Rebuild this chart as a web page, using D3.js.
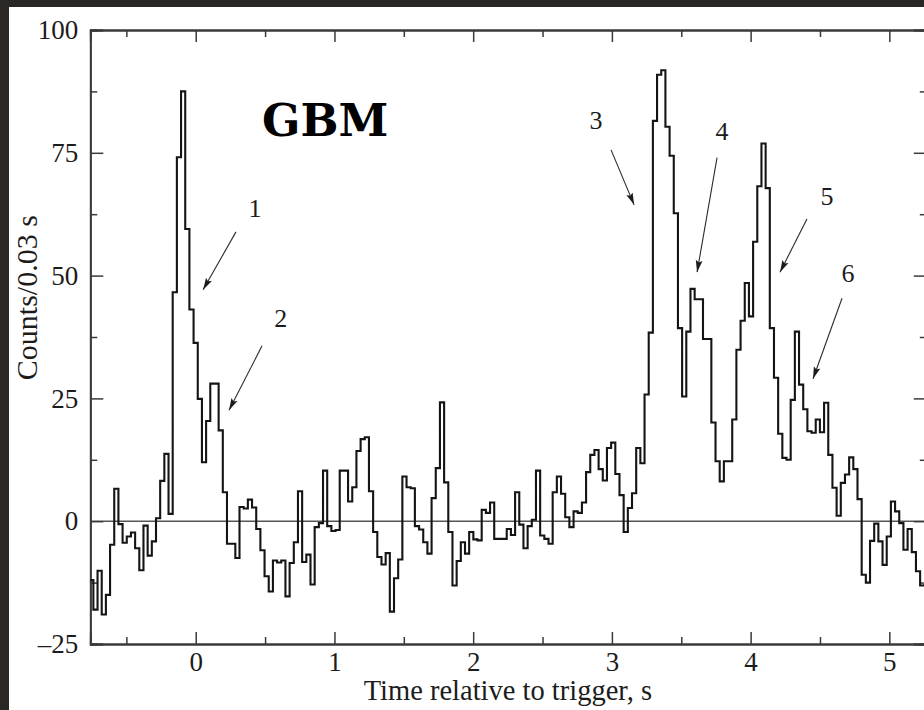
<!DOCTYPE html>
<html><head><meta charset="utf-8">
<script src="https://cdn.jsdelivr.net/npm/d3@7"></script>
<style>html,body{margin:0;padding:0;background:#2b2724;} svg{display:block;}</style>
</head><body>
<svg id="chart" width="924" height="710"></svg>
<script>
// ---- data ----
const binStart = -0.768;   // s, left edge of first bin
const binWidth = 0.0301;   // s
const counts = [
 -12,-18,-10.1,-19,-15,-4.8,6.6,-0.6,-4.4,-3.1,
 -2.3,-5.5,-10,-0.9,-7,-4.1,0.6,8.2,13.7,1.5,
 46.6,74.1,87.5,59.5,43.1,36.3,24.9,12,20.4,28,
 28,18.5,5.9,-4.6,-4.6,-7.5,2.9,2.6,4.4,2.8,
 -1.6,-5.9,-11.2,-14.3,-8,-8.4,-8,-15.3,-8.5,-4.3,
 6.1,-8.3,-6.8,-12.9,-1.2,-0.4,10.3,-1,-2,-1.8,
 10.3,10.3,4,6.9,14.3,16.7,17.1,6.1,-2.2,-7.3,
 -8.8,-6.5,-18.4,-11.6,-7.8,9.1,6.9,6.7,-1,-1.7,
 -4.3,-6.6,4.7,10.8,24.2,7.9,-2.2,-13.1,-8.1,-4.3,
 -6.6,-2.2,-3.7,-3.9,2.3,1.7,3.8,-3.6,-3.6,-3.6,
 -1.6,-2.8,5.9,-0.7,-5.5,-1,0.3,10.3,-2.9,-3.6,
 -4.6,5.9,9.1,5.6,0.8,-1.2,2,1.7,3.8,10,
 13.5,14.5,10.6,8.3,14.9,16,9.6,5.3,-2.2,2.7,
 5.7,14.9,11.8,25.8,38.4,81.5,90.9,91.8,80.3,74.4,
 62.7,39.3,25.4,38.6,47.3,45.2,45.2,37.1,37.1,20.1,
 12.2,8.1,12.2,12.2,20.7,34.9,40.8,48.5,41.7,56.9,
 68.2,76.9,67.8,39.3,29.2,17.8,12.9,12.5,24.7,38.6,
 27.8,22.8,18.3,18,20.7,18.1,24.1,13.5,6.8,1.1,
 7.8,9.5,13,10.6,4.5,-10.9,-12.5,-4,-0.5,-4.1,
 -8.9,-3.1,4,2,-0.4,-5.8,-1.6,-6.3,-10.2,-13.1,
 -13
];
const xDomain = [-0.76, 5.27];
const yDomain = [-25, 100];
const xMajorTicks = [0,1,2,3,4,5];
const xMinorTicks = [-0.5,0.5,1.5,2.5,3.5,4.5];
const yMajorTicks = [-25,0,25,50,75,100];
const yMinorTicks = [-12.5,12.5,37.5,62.5,87.5];
const xTitle = "Time relative to trigger, s";
const yTitle = "Counts/0.03 s";
const xTitleCenter = 2.25;   // s, horizontal centre of the x title
const yTitleCenter = 45.5;   // counts, vertical centre of the y title
const panelTitle = "GBM";
const panelTitleAt = [0.478, 78.4];
const labelIds = ["1","2","3","4","5","6"];
const labelTimes = [0.428,0.613,2.886,3.794,4.551,4.702];
const labelCounts = [63.7,41.3,81.7,79.4,66.2,50.5];
const arrowFromTimes = [0.29,0.478,2.994,3.758,4.406,4.659];
const arrowFromCounts = [58.9,35.7,75.6,74.0,61.5,45.4];
const arrowToTimes = [0.053,0.240,3.160,3.614,4.212,4.450];
const arrowToCounts = [47.1,22.6,64.4,50.7,50.7,29.0];

// ---- layout ----
const W = 924, H = 710;
const plot = {left: 90.3, right: 926.8, top: 30, bottom: 644};
const serif = "'Liberation Serif','Times New Roman',serif";

const svg = d3.select("#chart");
svg.append("rect").attr("width", W).attr("height", H).attr("fill", "#2b2724");
svg.append("rect").attr("x", 9).attr("y", 7).attr("width", W - 9).attr("height", H - 7).attr("fill", "#ffffff");

const x = d3.scaleLinear().domain(xDomain).range([plot.left, plot.right]);
const y = d3.scaleLinear().domain(yDomain).range([plot.bottom, plot.top]);

svg.append("defs").append("clipPath").attr("id", "clip")
  .append("rect").attr("x", plot.left).attr("y", plot.top)
  .attr("width", plot.right - plot.left).attr("height", plot.bottom - plot.top);

const axisColor = "#3a3a3a";
const fmt = d => d < 0 ? "\u2013" + Math.abs(d) : String(d);

function styleAxis(g, showText) {
  g.select(".domain").attr("stroke", axisColor).attr("stroke-width", 1.8);
  g.selectAll(".tick line").attr("stroke", axisColor).attr("stroke-width", 1.5);
  g.selectAll(".tick text").attr("fill", "#1c1c1c")
    .style("font-family", serif).style("font-size", "27px");
  if (!showText) g.selectAll(".tick text").remove();
}

// zero line
svg.append("line")
  .attr("x1", plot.left).attr("x2", plot.right)
  .attr("y1", y(0)).attr("y2", y(0))
  .attr("stroke", "#555").attr("stroke-width", 1.4);

// left axis
svg.append("g").attr("transform", `translate(${plot.left},0)`)
  .call(d3.axisLeft(y).tickValues(yMajorTicks).tickSize(-13).tickPadding(12).tickFormat(fmt))
  .call(g => styleAxis(g, true));
svg.append("g").attr("transform", `translate(${plot.left},0)`)
  .call(d3.axisLeft(y).tickValues(yMinorTicks).tickSize(-7).tickFormat(""))
  .call(g => styleAxis(g, false));
// right axis
svg.append("g").attr("transform", `translate(${plot.right},0)`)
  .call(d3.axisRight(y).tickValues(yMajorTicks).tickSize(-13).tickFormat(""))
  .call(g => styleAxis(g, false));
svg.append("g").attr("transform", `translate(${plot.right},0)`)
  .call(d3.axisRight(y).tickValues(yMinorTicks).tickSize(-7).tickFormat(""))
  .call(g => styleAxis(g, false));
// bottom axis
svg.append("g").attr("transform", `translate(0,${plot.bottom})`)
  .call(d3.axisBottom(x).tickValues(xMajorTicks).tickSize(-12).tickPadding(8).tickFormat(fmt))
  .call(g => styleAxis(g, true));
svg.append("g").attr("transform", `translate(0,${plot.bottom})`)
  .call(d3.axisBottom(x).tickValues(xMinorTicks).tickSize(-7).tickFormat(""))
  .call(g => styleAxis(g, false));
// top axis
svg.append("g").attr("transform", `translate(0,${plot.top})`)
  .call(d3.axisTop(x).tickValues(xMajorTicks).tickSize(-12).tickFormat(""))
  .call(g => styleAxis(g, false));
svg.append("g").attr("transform", `translate(0,${plot.top})`)
  .call(d3.axisTop(x).tickValues(xMinorTicks).tickSize(-7).tickFormat(""))
  .call(g => styleAxis(g, false));

// histogram (step line)
const pts = counts.map((v, i) => [binStart + i * binWidth, v]);
pts.push([binStart + counts.length * binWidth, counts[counts.length - 1]]);
const line = d3.line().x(d => x(d[0])).y(d => y(d[1])).curve(d3.curveStepAfter);
svg.append("path")
  .attr("clip-path", "url(#clip)")
  .attr("d", line(pts))
  .attr("fill", "none").attr("stroke", "#141414").attr("stroke-width", 2.1)
  .attr("stroke-linejoin", "miter");

// arrows
svg.select("defs").append("marker")
  .attr("id", "ah").attr("markerUnits", "userSpaceOnUse")
  .attr("viewBox", "0 0 12 8").attr("refX", 12).attr("refY", 4)
  .attr("markerWidth", 12).attr("markerHeight", 8).attr("orient", "auto")
  .append("path").attr("d", "M0,0.6 L12,4 L0,7.4 L2.2,4 Z").attr("fill", "#1c1c1c");

labelIds.forEach((id, i) => {
  svg.append("line")
    .attr("x1", x(arrowFromTimes[i])).attr("y1", y(arrowFromCounts[i]))
    .attr("x2", x(arrowToTimes[i])).attr("y2", y(arrowToCounts[i]))
    .attr("stroke", "#2a2a2a").attr("stroke-width", 1.1)
    .attr("marker-end", "url(#ah)");
  svg.append("text")
    .attr("x", x(labelTimes[i])).attr("y", y(labelCounts[i]))
    .attr("dy", "0.35em").attr("text-anchor", "middle")
    .style("font-family", serif).style("font-size", "26px").attr("fill", "#1c1c1c")
    .text(id);
});

// panel title
svg.append("text")
  .attr("x", x(panelTitleAt[0])).attr("y", y(panelTitleAt[1]))
  .style("font-family", "'DejaVu Serif',serif").style("font-weight", "bold")
  .style("font-size", "45px").attr("fill", "#000")
  .text(panelTitle);

// axis titles
svg.append("text")
  .attr("x", x(xTitleCenter)).attr("y", 700)
  .attr("text-anchor", "middle")
  .style("font-family", serif).style("font-size", "28.5px").attr("fill", "#1c1c1c")
  .text(xTitle);
svg.append("text")
  .attr("transform", `translate(37,${y(yTitleCenter)}) rotate(-90)`)
  .attr("text-anchor", "middle")
  .style("font-family", serif).style("font-size", "30px").attr("fill", "#1c1c1c")
  .text(yTitle);
</script>
</body></html>
